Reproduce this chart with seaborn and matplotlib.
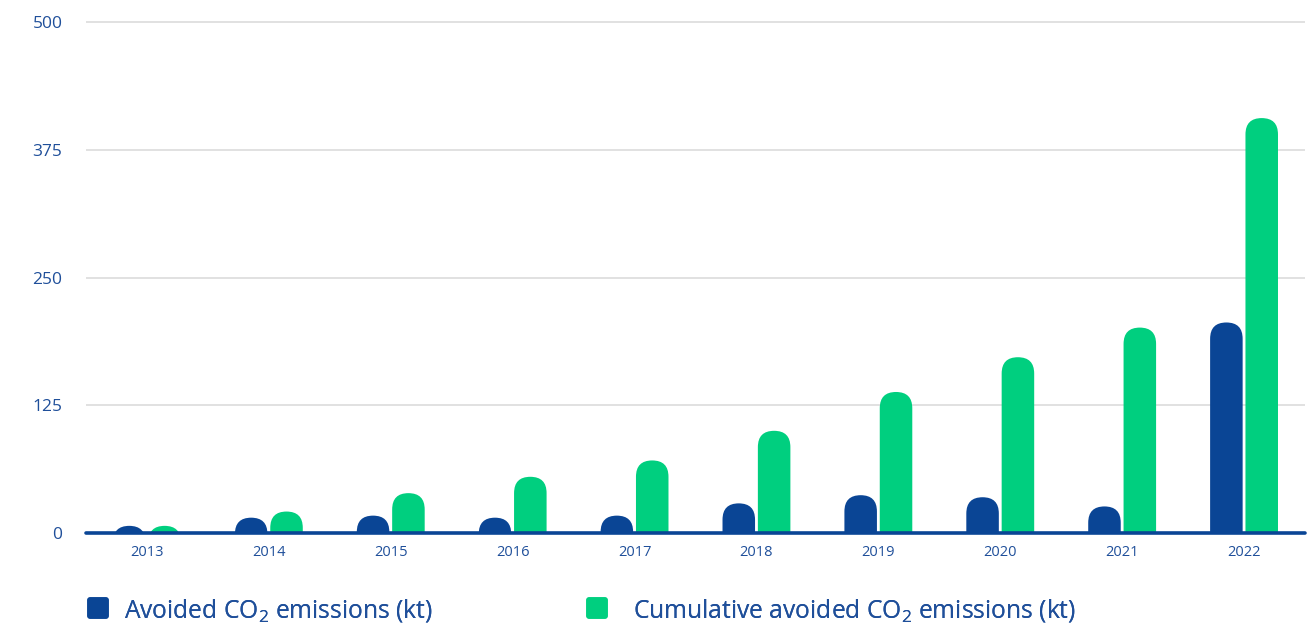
import matplotlib
matplotlib.use("Agg")
import matplotlib.pyplot as plt
from matplotlib.patches import FancyBboxPatch
from matplotlib.lines import Line2D
from matplotlib.markers import MarkerStyle
import seaborn as sns
import pandas as pd

# Data
years = ["2013", "2014", "2015", "2016", "2017", "2018", "2019", "2020", "2021", "2022"]
avoided = [7, 15, 17, 15, 17, 29, 37, 35, 26, 206]
cumulative = [7, 21, 39, 55, 71, 100, 138, 172, 201, 406]
series_names = ["Avoided CO$\\mathregular{_2}$ emissions (kt)",
                "Cumulative avoided CO$\\mathregular{_2}$ emissions (kt)"]
y_ticks = [0, 125, 250, 375, 500]

BLUE = "#0a4595"
GREEN = "#00cf7f"
TEXT = "#1f4f9a"

df = pd.DataFrame({
    "year": years * 2,
    "value": avoided + cumulative,
    "series": [series_names[0]] * len(years) + [series_names[1]] * len(years),
})

sns.set_style("white")
plt.rcParams["font.family"] = ["Open Sans", "DejaVu Sans"]
plt.rcParams["mathtext.fontset"] = "custom"
plt.rcParams["mathtext.rm"] = "Open Sans"

fig = plt.figure(figsize=(13.11, 6.32), dpi=100)
fig.patch.set_facecolor("white")
W, H = 1311, 632
ax = fig.add_axes([86 / W, 99 / H, (1305 - 86) / W, (533 - 21) / H])

sns.barplot(
    data=df, x="year", y="value", hue="series",
    palette=[BLUE, GREEN], width=0.58, gap=0.08,
    legend=False, ax=ax, saturation=1,
)

ax.set_xlim(-0.5, len(years) - 0.5)
ax.set_ylim(0, 501)

# Replace the square bars by bars with rounded tops
px_x = (1305 - 86) / len(years)
px_y = (533 - 21) / 501
aspect = px_x / px_y
radius_px = 20
for bar in list(ax.patches):
    x, w, h = bar.get_x(), bar.get_width(), bar.get_height()
    fc = bar.get_facecolor()
    bar.remove()
    r_x = min(radius_px / px_x, w / 2)
    r_y = r_x * aspect
    bottom = min(-r_y, h - 2.2 * r_y)
    box = FancyBboxPatch(
        (x, bottom), w, h - bottom,
        boxstyle=f"round,pad=0,rounding_size={r_x}",
        mutation_aspect=aspect, fc=fc, ec="none", zorder=3,
    )
    ax.add_patch(box)

ax.axhline(0, color=BLUE, lw=2.6, zorder=5, clip_on=False)

for s in ax.spines.values():
    s.set_visible(False)
ax.set_yticks(y_ticks)
ax.yaxis.grid(True, color="#dcdcdc", lw=1.2)
ax.set_axisbelow(True)
ax.tick_params(axis="y", length=0, pad=17, labelsize=12.5, labelcolor=TEXT)
ax.tick_params(axis="x", length=0, pad=9, labelsize=10.5, labelcolor=TEXT)
ax.set_xlabel("")
ax.set_ylabel("")

# Legend with rounded squares, one legend per series
colors = [BLUE, GREEN]
anchors_x = [64, 563]
text_pads = [0.55, 0.95]
for name, c, ax_x, tp in zip(series_names, colors, anchors_x, text_pads):
    handle = Line2D([], [], ls="none", marker=MarkerStyle("s", joinstyle="round"),
                    markersize=11, markerfacecolor=c, markeredgecolor=c,
                    markeredgewidth=4)
    leg = fig.legend(
        [handle], [name], loc="center left",
        bbox_to_anchor=(ax_x / W, (632 - 610) / H), frameon=False,
        fontsize=17.7, labelcolor=TEXT, handletextpad=tp, handlelength=1.0,
    )
    fig.add_artist(leg)

fig.savefig("out.png", dpi=100, facecolor="white")
